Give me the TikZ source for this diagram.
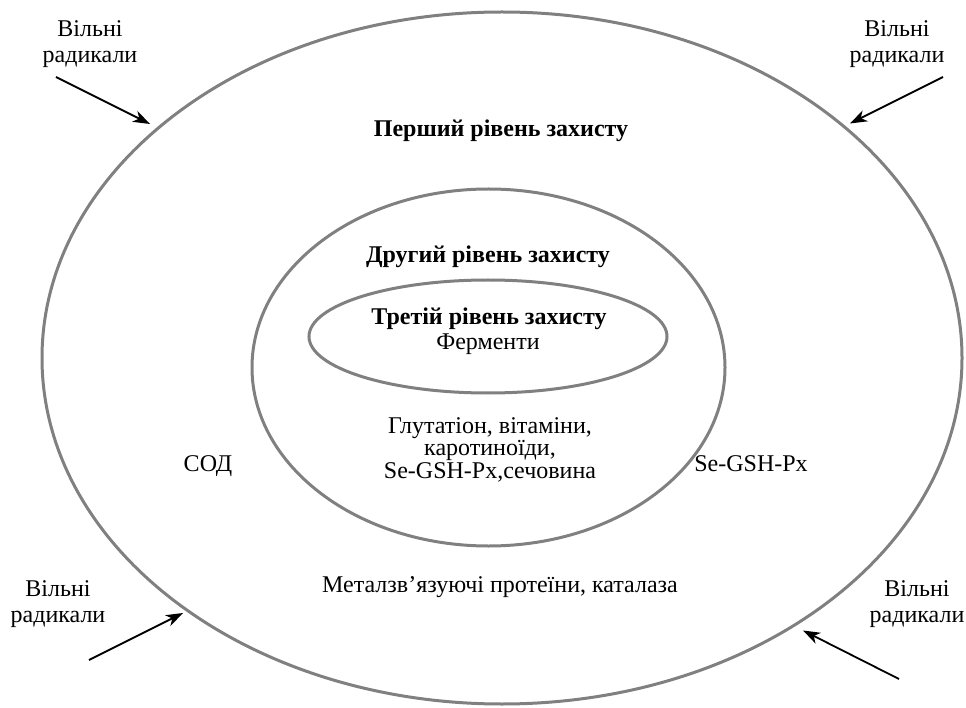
\documentclass[tikz,border=0pt]{standalone}
\usepackage{fontspec}
\setmainfont{Liberation Serif}
\usetikzlibrary{arrows.meta}

\definecolor{ringgray}{RGB}{128,128,128}

\tikzset{
  ring/.style={draw=ringgray, line width=3pt},
  radical/.style={align=center, inner sep=0pt, anchor=base,
    font=\fontsize{24}{26}\selectfont},
  level/.style={inner sep=0pt, anchor=base,
    font=\fontsize{24}{26}\selectfont\bfseries},
  agent/.style={align=center, inner sep=0pt, anchor=base,
    font=\fontsize{24}{22.5}\selectfont},
  attack/.style={-{Stealth[length=17pt,width=12pt,inset=5pt]}, line width=1.8pt},
}

\begin{document}
\begin{tikzpicture}[x=1pt, y=-1pt]
  \useasboundingbox (0,0) rectangle (966,708);

  \draw[ring] (502,358) ellipse [x radius=460, y radius=346];
  \draw[ring] (488.5,367.5) ellipse [x radius=236.5, y radius=178.5];
  \draw[ring] (488,336.5) ellipse [x radius=179, y radius=56.5];

  \node[level] (first) at (501,137) {Перший рівень захисту};
  \node[level] (second) at (488,263) {Другий рівень захисту};
  \node[level] (third) at (489,325) {Третій рівень захисту};
  \node[agent] (enzymes) at (488,349) {Ферменти};
  \node[agent] (glut) at (490,478) {Глутатіон, вітаміни,\\каротиноїди,\\Se-GSH-Px,сечовина};
  \node[agent] (sod) at (208,471) {СОД};
  \node[agent] (sepx) at (751,471) {Se-GSH-Px};
  \node[agent] (metal) at (500,592) {Металзв’язуючі протеїни, каталаза};

  \node[radical] (rtl) at (90,63) {Вільні\\радикали};
  \node[radical] (rtr) at (897,63) {Вільні\\радикали};
  \node[radical] (rbl) at (58,622) {Вільні\\радикали};
  \node[radical] (rbr) at (917,622) {Вільні\\радикали};

  \coordinate (tl0) at (56,77);
  \coordinate (tl1) at (150,124);
  \coordinate (tr0) at (943,77);
  \coordinate (tr1) at (850,123.5);
  \coordinate (bl0) at (89,660);
  \coordinate (bl1) at (183,613);
  \coordinate (br0) at (899,679);
  \coordinate (br1) at (803,630.5);

  \draw[attack] (tl0) -- (tl1);
  \draw[attack] (tr0) -- (tr1);
  \draw[attack] (bl0) -- (bl1);
  \draw[attack] (br0) -- (br1);
\end{tikzpicture}
\end{document}
